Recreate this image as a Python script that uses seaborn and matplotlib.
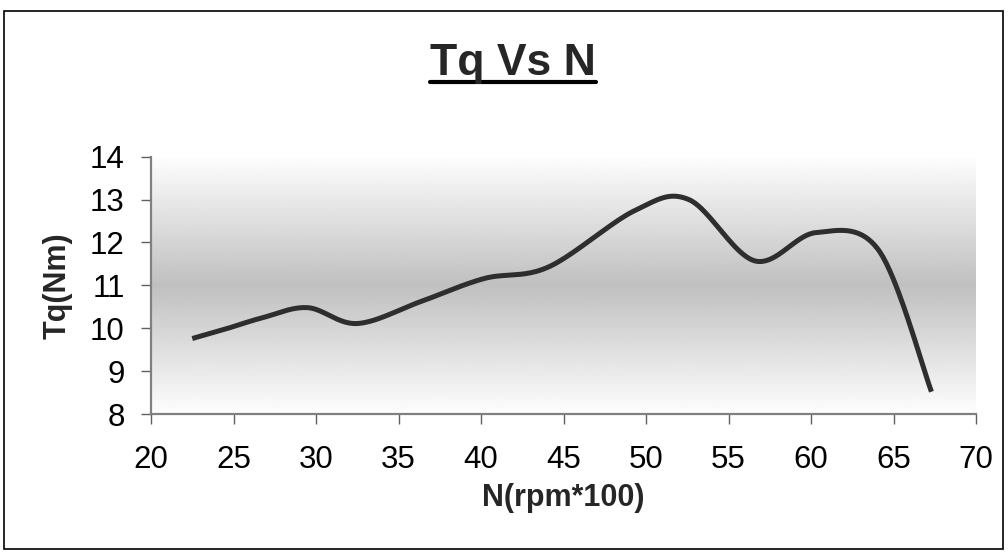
import numpy as np
import pandas as pd
import matplotlib
matplotlib.use("Agg")
import matplotlib.pyplot as plt
from matplotlib.lines import Line2D
from matplotlib.patches import Rectangle
import seaborn as sns

# ---- data ----
speed_n = [22.5, 24.5, 26.8, 29.5, 32.5, 36.4, 40.2, 44.1, 49.3, 52.6, 56.6, 60.3, 64.1, 67.3]
torque_tq = [9.76, 9.98, 10.25, 10.48, 10.11, 10.63, 11.16, 11.43, 12.74, 13.0, 11.57, 12.23, 11.82, 8.52]
x_ticks = [20, 25, 30, 35, 40, 45, 50, 55, 60, 65, 70]
y_ticks = [8, 9, 10, 11, 12, 13, 14]
title_text = "Tq Vs N"
x_label = "N(rpm*100)"
y_label = "Tq(Nm)"


def excel_smooth(xs, ys, n=40):
    """Excel-style smoothed line: cubic Bezier with Catmull-Rom control points."""
    P = np.column_stack([xs, ys]).astype(float)
    Pext = np.vstack([P[0], P, P[-1]])
    out = []
    t = np.linspace(0, 1, n)
    for i in range(len(P) - 1):
        p0, p1, p2, p3 = Pext[i], Pext[i + 1], Pext[i + 2], Pext[i + 3]
        c1 = p1 + (p2 - p0) / 6.0
        c2 = p2 - (p3 - p1) / 6.0
        seg = ((1 - t) ** 3)[:, None] * p1 + (3 * (1 - t) ** 2 * t)[:, None] * c1 \
            + (3 * (1 - t) * t ** 2)[:, None] * c2 + (t ** 3)[:, None] * p2
        out.append(seg if i == 0 else seg[1:])
    arr = np.vstack(out)
    return arr[:, 0], arr[:, 1]


sns.set_theme(style="white")
plt.rcParams["font.family"] = ["Liberation Sans", "DejaVu Sans"]

W, H = 1008, 554
fig = plt.figure(figsize=(W / 100, H / 100), dpi=100)
fig.patch.set_facecolor("white")

# outer chart border
fig.patches.append(Rectangle((4 / W, 5 / H), 999 / W, 538 / H, transform=fig.transFigure,
                             fill=False, edgecolor="black", linewidth=1.2))

ax = fig.add_axes([151 / W, 1 - 414 / H, 825 / W, 257.3 / H])

# gradient plot area
yy = np.linspace(0, 1, 400)
dist = np.abs(yy - 0.5) / 0.5
col = 0.753 + (0.995 - 0.753) * dist
grad = np.repeat(col[:, None], 2, axis=1)
ax.imshow(grad, extent=[20, 70, 8, 14], origin="lower", aspect="auto",
          cmap="gray", vmin=0, vmax=1, zorder=0, interpolation="bilinear")

sx, sy = excel_smooth(speed_n, torque_tq)
df = pd.DataFrame({"N": sx, "Tq": sy})
sns.lineplot(data=df, x="N", y="Tq", ax=ax, color="#2e2e2e", linewidth=3.6,
             sort=False, estimator=None, zorder=3)
ax.lines[-1].set_solid_capstyle("butt")

ax.set_xlim(20, 70)
ax.set_ylim(8, 14)
ax.set_xticks(x_ticks)
ax.set_yticks(y_ticks)
ax.set_xticklabels([str(v) for v in x_ticks])
ax.set_yticklabels([str(v) for v in y_ticks])

for s in ["top", "right"]:
    ax.spines[s].set_visible(False)
for s in ["left", "bottom"]:
    ax.spines[s].set_color("#808080")
    ax.spines[s].set_linewidth(1.6)

ax.tick_params(axis="both", direction="out", length=7, width=1.0, color="#606060",
               labelsize=22.5, labelcolor="black", bottom=True, left=True)
ax.tick_params(axis="x", pad=15)
ax.tick_params(axis="y", pad=12)
ax.grid(False)

ax.set_xlabel(x_label, fontsize=22, fontweight="bold", labelpad=6)
ax.set_ylabel(y_label, fontsize=22, fontweight="bold", labelpad=12)

t = fig.text(513 / W, 1 - 75 / H, title_text, fontsize=32, fontweight="bold",
             ha="center", va="baseline")
fig.canvas.draw()
bb = t.get_window_extent()
uy = (H - 82) / H
fig.lines.append(Line2D([bb.x0 / W, bb.x1 / W], [uy, uy], transform=fig.transFigure,
                        color="black", linewidth=3.0))

fig.savefig("out.png", dpi=100, facecolor="white")
